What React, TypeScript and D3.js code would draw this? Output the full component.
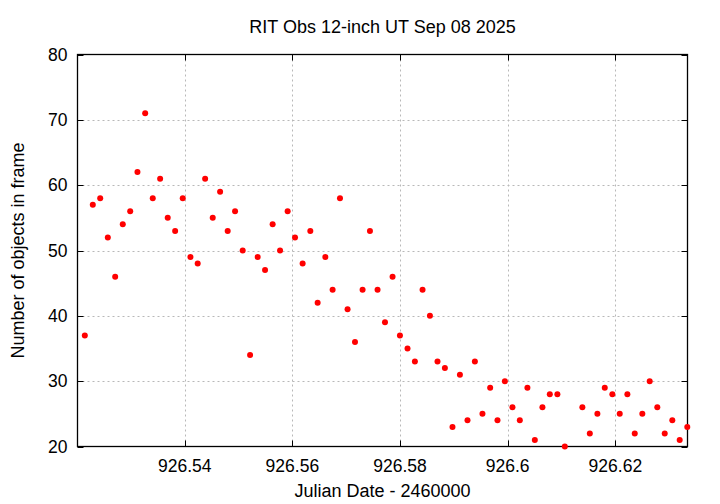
import React from "react";
import * as d3 from "d3";

const jd: number[] = [
  926.52144, 926.52292, 926.5243, 926.52571, 926.52708, 926.52849, 926.52987, 926.53122,
  926.53265, 926.53406, 926.53543, 926.53684, 926.53822, 926.53963, 926.54106, 926.54241,
  926.54379, 926.5452, 926.54657, 926.54798, 926.54935, 926.55077, 926.55214, 926.55355,
  926.55492, 926.55633, 926.55771, 926.55912, 926.56049, 926.5619, 926.56333, 926.56469,
  926.56612, 926.56747, 926.56884, 926.57025, 926.57163, 926.57304, 926.57441, 926.57582,
  926.5772, 926.57861, 926.57998, 926.58139, 926.58276, 926.58418, 926.58555, 926.58696,
  926.58833, 926.58974, 926.59112, 926.59253, 926.5939, 926.59531, 926.59674, 926.5981,
  926.59947, 926.60088, 926.60225, 926.60366, 926.60504, 926.60645, 926.60782, 926.60923,
  926.61061, 926.61387, 926.61525, 926.61666, 926.61803, 926.61944, 926.62081, 926.62223,
  926.6236, 926.62501, 926.62638, 926.62779, 926.62917, 926.63058, 926.63195, 926.63336,
];

const objects: number[] = [
  37, 57, 58, 52, 46, 54, 56, 62,
  71, 58, 61, 55, 53, 58, 49, 48,
  61, 55, 59, 53, 56, 50, 34, 49,
  47, 54, 50, 56, 52, 48, 53, 42,
  49, 44, 58, 41, 36, 44, 53, 44,
  39, 46, 37, 35, 33, 44, 40, 33,
  32, 23, 31, 24, 33, 25, 29, 24,
  30, 26, 24, 29, 21, 26, 28, 28,
  20, 26, 22, 25, 29, 28, 25, 28,
  22, 25, 30, 26, 22, 24, 21, 23,
];

const xTicks: number[] = [926.54, 926.56, 926.58, 926.6, 926.62];
const xTickLabels: string[] = ["926.54", "926.56", "926.58", "926.6", "926.62"];
const yTicks: number[] = [20, 30, 40, 50, 60, 70, 80];

const titleText = "RIT Obs 12-inch UT Sep 08 2025";
const xLabelText = "Julian Date - 2460000";
const yLabelText = "Number of objects in frame";

const W = 720;
const H = 504;
const L = 77.5;
const R = 687.5;
const T = 54.5;
const B = 446.5;
const FONT = "'Liberation Sans', Arial, Helvetica, sans-serif";

export default function App() {
  const x = d3.scaleLinear().domain([926.52008, 926.6334]).range([L, R]);
  const y = d3.scaleLinear().domain([20, 80]).range([B, T]);
  const tick = 6;

  return (
    <svg
      width={W}
      height={H}
      viewBox={`0 0 ${W} ${H}`}
      style={{ position: "absolute", left: 0, top: 0, background: "#fff" }}
    >
      <rect x={0} y={0} width={W} height={H} fill="#fff" />
      {/* grid */}
      <g stroke="#b8b8b8" strokeWidth={1} strokeDasharray="2,3" fill="none">
        {xTicks.map((t, i) => (
          <line key={"gx" + i} x1={Math.round(x(t)) + 0.5} x2={Math.round(x(t)) + 0.5} y1={T} y2={B} />
        ))}
        {yTicks.slice(1, -1).map((t, i) => (
          <line key={"gy" + i} x1={L} x2={R} y1={Math.round(y(t)) + 0.5} y2={Math.round(y(t)) + 0.5} />
        ))}
      </g>
      {/* ticks */}
      <g stroke="#000" strokeWidth={1}>
        {xTicks.map((t, i) => {
          const px = Math.round(x(t)) + 0.5;
          return (
            <g key={"tx" + i}>
              <line x1={px} x2={px} y1={B} y2={B - tick} />
              <line x1={px} x2={px} y1={T} y2={T + tick} />
            </g>
          );
        })}
        {yTicks.map((t, i) => {
          const py = Math.round(y(t)) + 0.5;
          return (
            <g key={"ty" + i}>
              <line x1={L} x2={L + tick} y1={py} y2={py} />
              <line x1={R} x2={R - tick} y1={py} y2={py} />
            </g>
          );
        })}
      </g>
      {/* border */}
      <rect x={L} y={T} width={R - L} height={B - T} fill="none" stroke="#000" strokeWidth={1.3} />
      {/* points */}
      <g fill="#ff0000">
        {jd.map((d, i) => (
          <circle key={"p" + i} cx={x(d)} cy={y(objects[i])} r={3} />
        ))}
      </g>
      {/* tick labels */}
      <g fontFamily={FONT} fontSize={17.5} fill="#000">
        {xTicks.map((t, i) => (
          <text key={"lx" + i} x={x(t)} y={B + 25} textAnchor="middle">
            {xTickLabels[i]}
          </text>
        ))}
        {yTicks.map((t, i) => (
          <text key={"ly" + i} x={L - 10} y={y(t) + 6} textAnchor="end">
            {String(t)}
          </text>
        ))}
      </g>
      {/* titles */}
      <text x={(L + R) / 2} y={33} textAnchor="middle" fontFamily={FONT} fontSize={18} fill="#000">
        {titleText}
      </text>
      <text x={(L + R) / 2} y={497} textAnchor="middle" fontFamily={FONT} fontSize={18} fill="#000">
        {xLabelText}
      </text>
      <text
        transform={`translate(24, ${(T + B) / 2}) rotate(-90)`}
        textAnchor="middle"
        fontFamily={FONT}
        fontSize={18}
        fill="#000"
      >
        {yLabelText}
      </text>
    </svg>
  );
}
